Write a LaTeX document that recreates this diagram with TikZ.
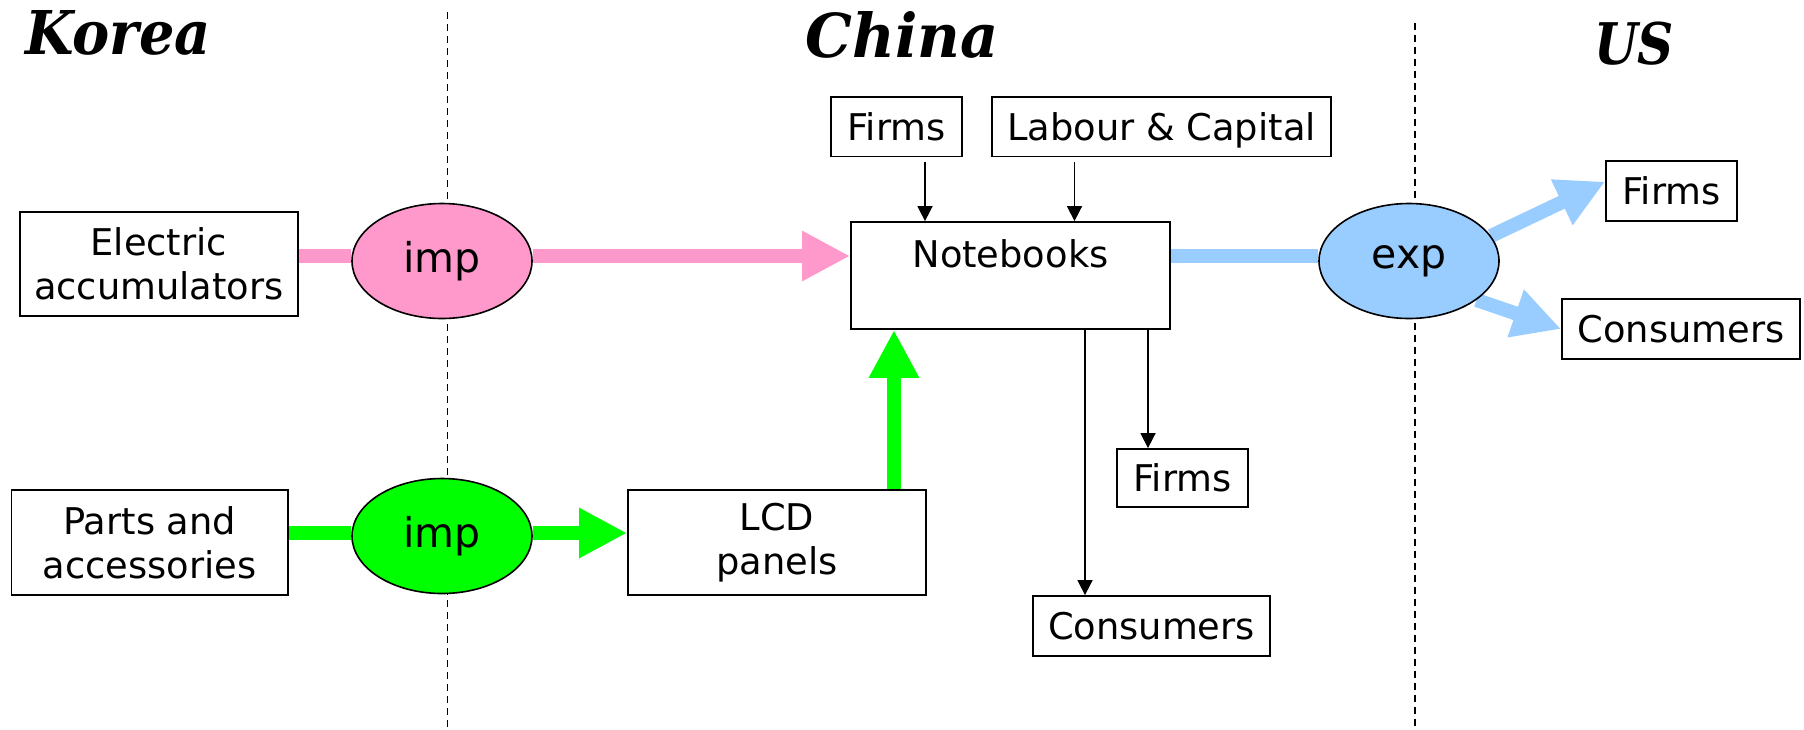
\documentclass[tikz,border=0pt]{standalone}
\usepackage{fontspec}
\usepackage{graphicx}
\setmainfont{DejaVu Sans}
\newfontfamily\titlefont{DejaVu Serif}
\usetikzlibrary{arrows.meta,shapes.geometric,calc,backgrounds}
\definecolor{pinkc}{HTML}{FF99CC}
\definecolor{greenc}{HTML}{00FF00}
\definecolor{bluec}{HTML}{99CCFF}
\begin{document}
\begin{tikzpicture}[x=0.5pt,y=-0.5pt,
  box/.style={draw=black,line width=0.9pt,fill=white,inner sep=0pt,align=center,font=\fontsize{18.4}{22}\selectfont},
  plain/.style={inner sep=0pt,font=\fontsize{18.4}{22}\selectfont},
  oval/.style={ellipse,draw=black,line width=0.8pt,minimum width=90pt,minimum height=57.5pt,inner sep=0pt,font=\fontsize{20.5}{24}\selectfont},
  fat/.style={line width=7pt},
  fatarrow/.style={line width=7pt,-{Triangle[length=24pt,width=23.5pt]}},
  blackarrow/.style={line width=0.8pt,-{Triangle[length=7.5pt,width=7.5pt]}},
  divider/.style={dash pattern=on 3.5pt off 2.5pt,line width=0.7pt},
  titlebox/.style={inner sep=0pt}]
\useasboundingbox (0,0) rectangle (1804,729);
% dividers
\coordinate (d1t) at (447.5,12);
\coordinate (d1b) at (447.5,729);
\coordinate (d2t) at (1415,23);
\coordinate (d2b) at (1415,729);
\draw[divider] (d1t) -- (d1b);
\draw[divider] (d2t) -- (d2b);
% titles
\node[titlebox] (korea) at (118,33) {\resizebox{92.75pt}{22pt}{\titlefont\bfseries\itshape Korea}};
\node[titlebox] (china) at (902,34.5) {\resizebox{96.5pt}{23pt}{\titlefont\bfseries\itshape China}};
\node[titlebox] (us) at (1634,44) {\resizebox{40pt}{21.3pt}{\titlefont\bfseries\itshape US}};
% nodes
\node[box,minimum width=139pt,minimum height=52pt] (el) at (158.8,264) {Electric\\accumulators};
\node[oval,fill=pinkc] (impA) at (442,261) {imp};
\node[box,minimum width=159.5pt,minimum height=53.5pt] (nb) at (1010.5,275.5) {};
\node[plain] (nbt) at ($(nb.north)+(0,33)$) {Notebooks};
\node[box,minimum width=65.5pt,minimum height=29.75pt] (ft) at (896.5,126.8) {Firms};
\node[box,minimum width=169.5pt,minimum height=29.75pt,text depth=0pt] (lc) at (1161.5,126.8) {Labour \& Capital};
\node[oval,fill=bluec] (ex) at (1409,261) {exp};
\node[box,minimum width=65.5pt,minimum height=30pt] (fr) at (1671.5,191) {Firms};
\node[box,minimum width=119pt,minimum height=30pt] (cr) at (1681,329) {Consumers};
\node[box,minimum width=65.5pt,minimum height=29pt] (fm) at (1182.5,478) {Firms};
\node[box,minimum width=118.5pt,minimum height=30pt] (cb) at (1151.5,626) {Consumers};
\node[box,minimum width=138.25pt,minimum height=52.5pt] (pa) at (149.8,542.5) {Parts and\\accessories};
\node[oval,fill=greenc] (impB) at (442,536) {imp};
\node[box,minimum width=149pt,minimum height=52.5pt] (lcd) at (777,542.5) {LCD\\panels};
% connectors
\coordinate (py) at (0,256);
\coordinate (gy) at (0,533);
\coordinate (gx) at (894,0);
\begin{pgfonlayer}{background}
\fill[white] (0,0) rectangle (1804,729);
\draw[fat,pinkc] (el.east |- py) -- (impA.west |- py);
\draw[fatarrow,pinkc] (impA.east |- py) -- (nb.west |- py);
\draw[fat,bluec] (nb.east |- py) -- (ex.west |- py);
\draw[fatarrow,bluec] (ex.17) -- (fr.172);
\draw[fatarrow,bluec] (ex.-30) -- (cr.west);
\draw[fat,greenc] (pa.east |- gy) -- (impB.west |- gy);
\draw[fatarrow,greenc] (impB.east |- gy) -- (lcd.west |- gy);
\end{pgfonlayer}
\draw[fatarrow,greenc] (lcd.north -| gx) -- (nb.south -| gx);
\draw[blackarrow] ($(ft.south)+(28.5,4.5)$) -- ($(nb.north)+(-85.5,0)$);
\draw[blackarrow] ($(lc.south)+(-87,4.5)$) -- ($(nb.north)+(64,0)$);
\draw[blackarrow] ($(nb.south)+(74.5,0)$) -- ($(cb.north)+(-66.5,0)$);
\draw[blackarrow] ($(nb.south)+(137.5,0)$) -- ($(fm.north)+(-34.5,0)$);
\end{tikzpicture}
\end{document}
